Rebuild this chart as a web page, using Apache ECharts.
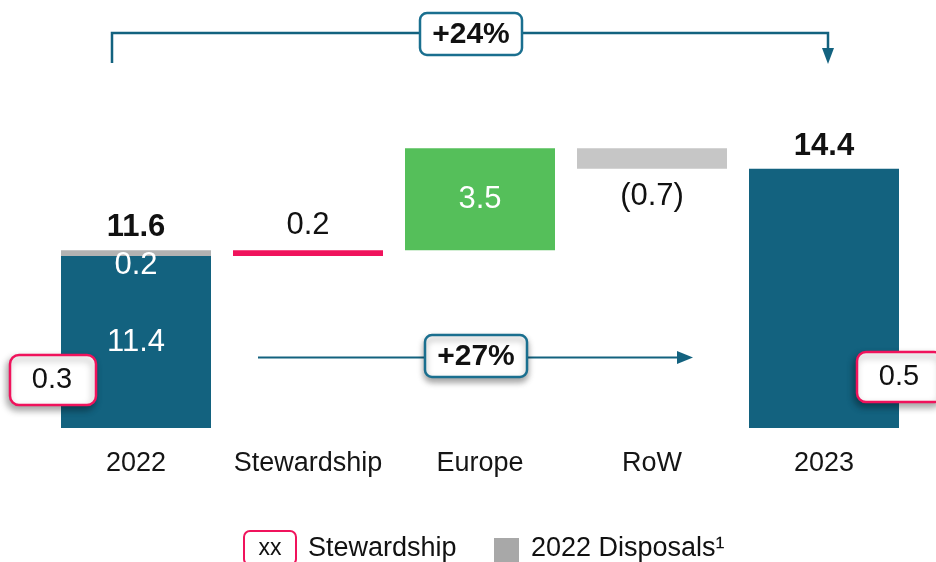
<!DOCTYPE html>
<html>
<head>
<meta charset="utf-8">
<title>Revenue bridge 2022 - 2023</title>
<script src="https://cdn.jsdelivr.net/npm/echarts@6.0.0/dist/echarts.min.js"></script>
<style>
  html, body { margin: 0; padding: 0; background: #fff; }
  #chart { width: 936px; height: 562px; }
</style>
</head>
<body>
<div id="chart"></div>
<script>
// bridge data
var categories = ['2022', 'Stewardship', 'Europe', 'RoW', '2023'];
var baseValues = ['-', 11.4, 11.6, 14.4, '-'];      // invisible offsets
var coreValues = [11.4, '-', '-', '-', 14.4];       // dark bars
var stewardValues = ['-', 0.2, '-', '-', '-'];
var europeValues = ['-', '-', 3.5, '-', '-'];
var disposalValues = [0.2, '-', '-', 0.7, '-'];     // 2022 disposals (grey)
var totalValues = [11.6, '-', '-', '-', 14.4];
var coreLabels = ['11.4', '', '', '', ''];
var disposalLabels = ['0.2', '', '', '(0.7)', ''];
var stewardBoxes = ['0.3', '0.5'];
var growthLabels = ['+24%', '+27%'];

var TEAL = '#13627f';
var PINK = '#f0135c';
var GREEN = '#55bf5a';
var GREY = '#c6c6c6';
var FONT = '"Liberation Sans", Arial, sans-serif';
var LBL = 31;

var myChart = echarts.init(document.getElementById('chart'));

var disposalData = disposalValues.map(function (v, i) {
        if (v === '-') return v;
        if (i === 0) {
                return {
                        value: v,
                        itemStyle: { color: '#b2b2b2' },
                        label: { position: 'bottom', distance: -6, color: '#fff' }
                };
        }
        return { value: v, label: { position: 'bottom', distance: 12, color: '#111' } };
});

// zero-height bars sitting on top of the stack, only to carry the totals
var totalCarrier = totalValues.map(function (v) { return v === '-' ? '-' : 0; });

function pinkBox(x, y, w, txt) {
        return {
                type: 'group', x: x, y: y, z: 100,
                children: [
                        { type: 'rect', z: 100, shape: { x: 0, y: 0, width: w, height: 50, r: 9 },
                          style: { fill: '#fff', stroke: PINK, lineWidth: 2.5,
                                   shadowBlur: 7, shadowOffsetX: -2, shadowOffsetY: 4, shadowColor: 'rgba(0,0,0,0.35)' } },
                        { type: 'text', z: 101, x: 42, y: 25,
                          style: { text: txt, font: '29px ' + FONT, fill: '#111', align: 'center', verticalAlign: 'middle' } }
                ]
        };
}

function growthBox(x, y, txt, shadow) {
        return {
                type: 'group', x: x, y: y, z: 100,
                children: [
                        { type: 'rect', z: 100, shape: { x: 0, y: 0, width: 102, height: 42, r: 7 },
                          style: { fill: '#fff', stroke: '#1a6f8f', lineWidth: 2.5,
                                   shadowBlur: shadow ? 6 : 0, shadowOffsetY: shadow ? 4 : 0, shadowColor: 'rgba(0,0,0,0.35)' } },
                        { type: 'text', z: 101, x: 51, y: 22,
                          style: { text: txt, font: 'bold 30px ' + FONT, fill: '#111', align: 'center', verticalAlign: 'middle' } }
                ]
        };
}

var option = {
        animation: false,
        backgroundColor: '#fff',
        textStyle: { fontFamily: FONT },
        grid: { left: 50, right: 26, top: 58, bottom: 134, containLabel: false, outerBoundsMode: 'none' },
        xAxis: {
                type: 'category',
                data: categories,
                axisLine: { show: false },
                axisTick: { show: false },
                axisLabel: { interval: 0, fontSize: 27, color: '#151515', margin: 22, fontFamily: FONT }
        },
        yAxis: {
                type: 'value',
                min: 5.5,
                max: 18.2,
                show: false,
                splitLine: { show: false }
        },
        series: [
                {
                        name: 'base', type: 'bar', stack: 'bridge', barWidth: 150,
                        data: baseValues, silent: true,
                        itemStyle: { color: 'rgba(0,0,0,0)' }
                },
                {
                        name: 'Revenue', type: 'bar', stack: 'bridge', barWidth: 150,
                        data: coreValues,
                        itemStyle: { color: TEAL },
                        label: {
                                show: true, position: 'inside', color: '#fff', fontSize: LBL, fontFamily: FONT,
                                formatter: function (p) { return coreLabels[p.dataIndex]; }
                        }
                },
                {
                        name: 'Stewardship', type: 'bar', stack: 'bridge', barWidth: 152,
                        data: stewardValues,
                        itemStyle: { color: PINK },
                        label: {
                                show: true, position: 'top', distance: 9, color: '#111', fontSize: LBL, fontFamily: FONT
                        }
                },
                {
                        name: 'Europe', type: 'bar', stack: 'bridge', barWidth: 150,
                        data: europeValues,
                        itemStyle: { color: GREEN },
                        label: {
                                show: true, position: 'inside', color: '#fff', fontSize: LBL, fontFamily: FONT
                        }
                },
                {
                        name: '2022 Disposals', type: 'bar', stack: 'bridge', barWidth: 150,
                        data: disposalData,
                        itemStyle: { color: GREY },
                        label: {
                                show: true, fontSize: LBL, fontFamily: FONT,
                                formatter: function (p) { return disposalLabels[p.dataIndex]; }
                        }
                },
                {
                        name: 'Total', type: 'bar', stack: 'bridge', barWidth: 150,
                        data: totalCarrier,
                        itemStyle: { color: 'rgba(0,0,0,0)' },
                        label: {
                                show: true, position: 'top', distance: 7, color: '#111',
                                fontSize: LBL, fontWeight: 'bold', fontFamily: FONT,
                                formatter: function (p) { return totalValues[p.dataIndex].toFixed(1); }
                        }
                }
        ],
        graphic: [
                // +24% bracket
                { type: 'polyline', z: 100, shape: { points: [[112, 63], [112, 33], [828, 33], [828, 50]] },
                  style: { stroke: TEAL, lineWidth: 2.5, fill: null } },
                { type: 'polygon', z: 100, shape: { points: [[822, 48], [834, 48], [828, 64]] },
                  style: { fill: TEAL } },
                growthBox(420, 13, growthLabels[0], false),
                // +27% arrow
                { type: 'line', z: 100, shape: { x1: 258, y1: 357.5, x2: 680, y2: 357.5 },
                  style: { stroke: TEAL, lineWidth: 2 } },
                { type: 'polygon', z: 100, shape: { points: [[677, 351], [677, 364], [693, 357.5]] },
                  style: { fill: TEAL } },
                growthBox(425, 335, growthLabels[1], true),
                // stewardship call-outs
                pinkBox(10, 355, 86, stewardBoxes[0]),
                pinkBox(857, 352, 86, stewardBoxes[1]),
                // legend
                { type: 'rect', z: 100, shape: { x: 244, y: 531, width: 52, height: 34, r: 6 },
                  style: { fill: '#fff', stroke: PINK, lineWidth: 2 } },
                { type: 'text', z: 101, x: 270, y: 549,
                  style: { text: 'xx', font: '23px ' + FONT, fill: '#111', align: 'center', verticalAlign: 'middle' } },
                { type: 'text', z: 100, x: 308, y: 549,
                  style: { text: 'Stewardship', font: '27px ' + FONT, fill: '#111', verticalAlign: 'middle' } },
                { type: 'rect', z: 100, shape: { x: 494, y: 538, width: 25, height: 25 },
                  style: { fill: '#a8a8a8' } },
                { type: 'text', z: 100, x: 531, y: 549,
                  style: { text: '2022 Disposals\u00b9', font: '27px ' + FONT, fill: '#111', verticalAlign: 'middle' } }
        ]
};

myChart.setOption(option);
</script>
</body>
</html>
